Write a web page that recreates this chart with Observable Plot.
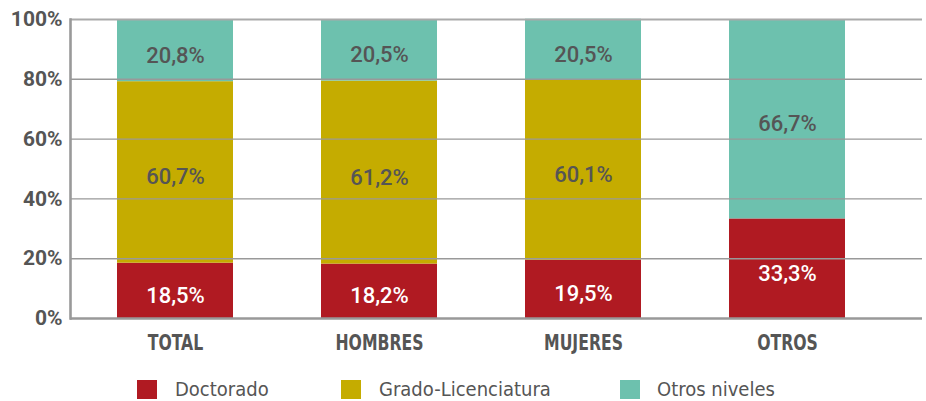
<!DOCTYPE html>
<html>
<head>
<meta charset="utf-8">
<script src="https://cdn.jsdelivr.net/npm/d3@7"></script>
<script src="https://cdn.jsdelivr.net/npm/@observablehq/plot@0.6"></script>
<style>
  html, body { margin: 0; padding: 0; background: #fff; }
  #wrap { position: relative; width: 926px; height: 401px; }
  .sw { position: absolute; width: 20px; height: 19px; }
  .lt { position: absolute; font-family: "DejaVu Sans Condensed", "DejaVu Sans", sans-serif; font-stretch: condensed; font-size: 20px; line-height: 19px; color: #555; white-space: nowrap; }
</style>
</head>
<body>
<div id="wrap"></div>
<script>
const categories = ["TOTAL", "HOMBRES", "MUJERES", "OTROS"];
const levels = ["Doctorado", "Grado-Licenciatura", "Otros niveles"];
const doctorado = [18.5, 18.2, 19.5, 33.3];
const grado = [60.7, 61.2, 60.1, 0];
const otrosNiveles = [20.8, 20.5, 20.5, 66.7];
const yTicks = [0, 20, 40, 60, 80, 100];
const colors = ["#B01A22", "#C5AC00", "#6DC1AE"];

const series = [doctorado, grado, otrosNiveles];
const rows = levels.flatMap((lev, i) => categories.map((c, j) => ({cat: c, level: lev, value: series[i][j]})));
const fmt = v => v.toFixed(1).replace(".", ",") + "%";

const narrow = "'DejaVu Sans Condensed', 'DejaVu Sans', sans-serif";
const stackOpts = {x: "cat", y: "value", z: "level"};

const chart = Plot.plot({
  width: 926,
  height: 365,
  marginTop: 19,
  marginBottom: 47,
  marginLeft: 70,
  marginRight: 4,
  style: {fontFamily: "Roboto, sans-serif", color: "#555", background: "#fff"},
  x: {domain: categories, range: [70, 892.7], paddingInner: 0.43, paddingOuter: 0.225, label: null},
  y: {domain: [0, 100], label: null},
  color: {domain: levels, range: colors},
  marks: [
    Plot.barY(rows, Plot.stackY({...stackOpts, fill: "level"})),
    Plot.ruleY(yTicks.filter(t => t > 0 && t < 100), {stroke: "#999", strokeWidth: 1.4}),
    Plot.ruleY([100], {stroke: "#aaa", strokeWidth: 2}),
    Plot.ruleY([0], {stroke: "#999", strokeWidth: 2.6}),
    Plot.frame({anchor: "left", stroke: "#999", strokeWidth: 2.6}),
    Plot.text(rows, Plot.stackY({...stackOpts,
      text: d => d.level === levels[0] && d.value > 0 ? fmt(d.value) : null,
      fill: "white", fontSize: 22, fontWeight: 500, dy: 5})),
    Plot.text(rows, Plot.stackY({...stackOpts,
      text: d => d.level !== levels[0] && d.value > 0 ? fmt(d.value) : null,
      fill: "#555", fontSize: 22, fontWeight: 500, dy: 5})),
    Plot.axisY({ticks: yTicks, tickFormat: d => d + "%", tickSize: 0, tickPadding: 8,
      fontSize: 21, fontWeight: "bold", fill: "#555", label: null}),
    Plot.axisX({tickSize: 0, tickPadding: 17, fontSize: 21, fontWeight: "bold",
      fontFamily: narrow, fill: "#555", label: null})
  ]
});

// narrow the bold category labels horizontally (condensed look)
const catSet = new Set(categories);
d3.select(chart).selectAll("text").each(function() {
  if (!catSet.has(this.textContent)) return;
  const t = this.getAttribute("transform") || "";
  this.setAttribute("transform", t + " scale(0.83,1)");
});

const wrap = document.getElementById("wrap");
wrap.appendChild(chart);

const swatchX = [137, 341, 620];
const textX = [175, 379, 657];
levels.forEach((lev, i) => {
  const s = document.createElement("div");
  s.className = "sw";
  s.style.left = swatchX[i] + "px";
  s.style.top = "380px";
  s.style.background = colors[i];
  wrap.appendChild(s);
  const t = document.createElement("div");
  t.className = "lt";
  t.style.left = textX[i] + "px";
  t.style.top = "380px";
  t.textContent = lev;
  wrap.appendChild(t);
});
</script>
</body>
</html>
